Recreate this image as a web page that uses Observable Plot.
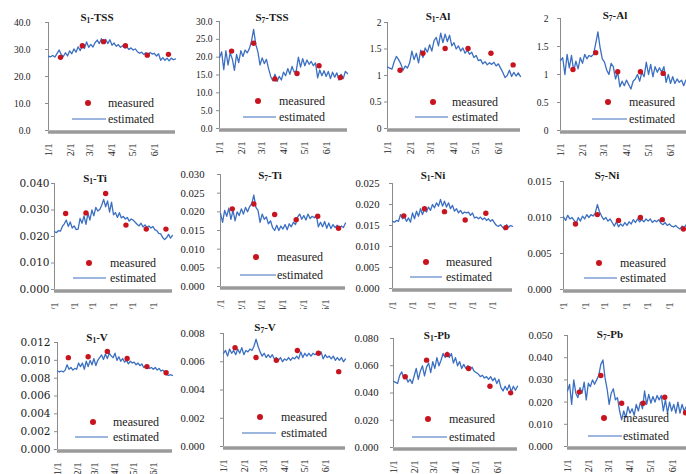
<!DOCTYPE html>
<html><head><meta charset="utf-8">
<script src="https://cdn.jsdelivr.net/npm/d3@7"></script>
<script src="https://cdn.jsdelivr.net/npm/@observablehq/plot@0.6"></script>
<style>
body{margin:0;background:#fff;}
#root{position:relative;width:686px;height:474px;overflow:hidden;background:#fff;font-family:"Liberation Serif","Times New Roman",serif;color:#1a1a1a;}
.title{position:absolute;transform:translate(-50%,-50%);font-weight:bold;font-size:11px;white-space:nowrap;line-height:1;}
.title sub{font-size:7.5px;vertical-align:-2px;line-height:0;}
.lg{position:absolute;font-size:12px;line-height:1;transform:translateY(-55%);white-space:nowrap;}
.lgdot{position:absolute;width:6px;height:6px;border-radius:50%;background:#c8141e;transform:translate(-50%,-50%);}
.lgline{position:absolute;height:0;border-top:1.6px solid #3b6fc2;transform:translateY(-50%);}
</style></head><body><div id="root"></div><script>
// ---------- DATA ----------
const startDate = "2011-01-01";
const endDate = "2011-06-30";
const stepDays = 3; // estimated values, one every 3 days from startDate
const monthTicks = ["2011-01-01","2011-02-01","2011-03-01","2011-04-01","2011-05-01","2011-06-01"];
const monthLabels = ["1/1","2/1","3/1","4/1","5/1","6/1"];
const measuredDates = ["2011-01-18","2011-02-18","2011-03-20","2011-04-20","2011-05-21","2011-06-20"];

const panelSites = ["1","7","1","7","1","7","1","7","1","7","1","7"];
const panelElements = ["TSS","TSS","Al","Al","Ti","Ti","Ni","Ni","V","V","Pb","Pb"];

const yTicks_TSS_S1 = [0,10,20,30,40];
const yTicks_TSS_S7 = [0,5,10,15,20,25,30];
const yTicks_Al = [0,0.5,1,1.5,2];
const yTicks_Ti_S1 = [0,0.01,0.02,0.03,0.04];
const yTicks_Ti_S7 = [0,0.005,0.01,0.015,0.02,0.025,0.03];
const yTicks_Ni_S1 = [0,0.005,0.01,0.015,0.02,0.025];
const yTicks_Ni_S7 = [0,0.005,0.01,0.015];
const yTicks_V_S1 = [0,0.002,0.004,0.006,0.008,0.01,0.012];
const yTicks_V_S7 = [0,0.002,0.004,0.006,0.008];
const yTicks_Pb_S1 = [0,0.02,0.04,0.06,0.08];
const yTicks_Pb_S7 = [0,0.01,0.02,0.03,0.04,0.05];
const yDecimals = [1,1,null,null,3,3,3,3,3,3,3,3];

const measured_S1_TSS = [27.1, 31.4, 32.9, 31.4, 27.9, 28.2];
const measured_S7_TSS = [21.7, 23.9, 13.9, 15.4, 17.6, 14.3];
const measured_S1_Al = [1.10, 1.42, 1.51, 1.51, 1.42, 1.20];
const measured_S7_Al = [1.09, 1.39, 1.05, 1.05, 1.02, null];
const measured_S1_Ti = [0.0287, 0.0289, 0.0362, 0.0243, 0.0228, 0.0228];
const measured_S7_Ti = [0.0208, 0.0221, 0.0193, 0.0179, 0.0188, 0.0156];
const measured_S1_Ni = [0.0173, 0.0190, 0.0183, 0.0163, 0.0179, 0.0145];
const measured_S7_Ni = [0.0091, 0.0104, 0.0096, 0.0100, 0.0097, 0.0084];
const measured_S1_V = [0.0103, 0.0104, 0.0110, 0.0102, 0.0093, 0.0086];
const measured_S7_V = [0.0070, 0.0063, 0.0061, 0.0068, 0.0066, 0.0053];
const measured_S1_Pb = [0.0519, 0.0641, 0.0682, 0.0580, 0.0450, 0.0401];
const measured_S7_Pb = [0.0245, 0.0320, 0.0195, 0.0195, 0.0222, 0.0152];

const estimated_S1_TSS = [27.5,27.3,27.8,27.2,28.5,29.8,28.2,27.4,28.8,27.6,
 29.5,28.4,30.2,29.0,31.0,29.6,31.5,30.4,32.8,30.8,
 31.9,30.9,32.5,33.5,32.2,34.0,32.6,33.8,32.2,33.6,
 31.6,32.4,31.2,31.8,30.8,31.4,30.6,31.0,30.0,30.6,
 29.8,30.2,29.2,28.6,29.0,28.2,28.8,28.0,28.9,28.3,
 28.6,27.6,28.4,26.0,27.0,26.0,26.8,25.8,26.8,26.2,26.5];
const estimated_S7_TSS = [19.8,21.5,16.5,21.8,17.8,21.2,19.5,16.3,20.8,18.5,
 21.8,20.2,22.0,21.2,22.4,24.5,27.8,23.6,21.5,17.8,
 19.8,18.2,19.4,16.8,14.6,13.4,15.2,13.2,14.6,13.6,
 15.8,14.8,16.8,15.2,17.4,15.8,16.2,20.0,17.2,19.6,
 17.6,19.2,18.0,18.8,17.6,18.4,14.2,16.4,14.8,16.2,
 14.6,16.0,14.0,15.8,14.4,15.6,13.6,15.2,14.0,16.0,15.4];
const estimated_S1_Al = [1.16,1.14,1.12,1.26,1.36,1.30,1.22,1.10,1.18,1.14,
 1.24,1.46,1.30,1.42,1.24,1.48,1.34,1.52,1.44,1.58,
 1.46,1.66,1.72,1.56,1.80,1.62,1.78,1.64,1.76,1.56,
 1.62,1.50,1.56,1.46,1.52,1.42,1.48,1.40,1.44,1.34,
 1.38,1.28,1.30,1.22,1.26,1.20,1.24,1.21,1.25,1.18,
 1.22,1.14,1.06,0.96,1.00,1.10,0.98,1.06,0.99,1.05,0.98];
const estimated_S7_Al = [1.25,1.30,1.00,1.36,1.12,1.34,1.06,1.24,1.10,1.30,
 1.20,1.36,1.28,1.34,1.32,1.36,1.55,1.76,1.48,1.28,
 1.22,1.08,1.00,1.20,1.14,0.92,1.04,0.78,0.88,0.80,
 0.90,0.82,0.74,0.88,0.92,1.00,0.88,1.04,0.96,1.22,
 1.00,1.18,0.96,1.14,1.04,1.12,1.04,1.14,0.86,1.00,
 0.84,0.96,0.84,0.92,0.86,0.90,0.80,0.90,0.82,0.88,0.80];
const estimated_S1_Ti = [0.0218,0.0215,0.0222,0.0220,0.0238,0.0248,0.0262,0.0238,0.0255,0.0232,
 0.0240,0.0226,0.0228,0.0268,0.0250,0.0278,0.0246,0.0288,0.0262,0.0300,
 0.0278,0.0310,0.0296,0.0302,0.0318,0.0340,0.0312,0.0334,0.0292,0.0330,
 0.0282,0.0290,0.0272,0.0290,0.0270,0.0276,0.0266,0.0272,0.0258,0.0266,
 0.0262,0.0254,0.0246,0.0240,0.0250,0.0236,0.0244,0.0234,0.0240,0.0232,
 0.0238,0.0226,0.0222,0.0212,0.0210,0.0196,0.0188,0.0196,0.0208,0.0194,0.0204];
const estimated_S7_Ti = [0.0196,0.0172,0.0204,0.0188,0.0210,0.0180,0.0204,0.0176,0.0200,0.0190,
 0.0208,0.0194,0.0212,0.0200,0.0214,0.0222,0.0245,0.0212,0.0204,0.0172,
 0.0194,0.0180,0.0186,0.0168,0.0176,0.0158,0.0150,0.0164,0.0150,0.0162,
 0.0154,0.0166,0.0152,0.0168,0.0160,0.0172,0.0166,0.0186,0.0194,0.0180,
 0.0190,0.0178,0.0194,0.0182,0.0188,0.0184,0.0190,0.0160,0.0172,0.0160,
 0.0174,0.0156,0.0170,0.0155,0.0166,0.0158,0.0164,0.0154,0.0162,0.0158,0.0170];
const estimated_S1_Ni = [0.0160,0.0158,0.0162,0.0160,0.0176,0.0166,0.0170,0.0160,0.0168,0.0158,
 0.0180,0.0166,0.0184,0.0172,0.0190,0.0176,0.0190,0.0182,0.0194,0.0186,
 0.0200,0.0192,0.0204,0.0196,0.0212,0.0196,0.0208,0.0194,0.0204,0.0190,
 0.0198,0.0184,0.0190,0.0180,0.0186,0.0178,0.0182,0.0180,0.0182,0.0174,
 0.0180,0.0168,0.0170,0.0166,0.0170,0.0164,0.0168,0.0162,0.0166,0.0160,
 0.0164,0.0156,0.0150,0.0148,0.0152,0.0146,0.0140,0.0152,0.0146,0.0150,0.0148];
const estimated_S7_Ni = [0.0101,0.0096,0.0103,0.0098,0.0100,0.0096,0.0092,0.0100,0.0095,0.0102,
 0.0098,0.0104,0.0100,0.0104,0.0102,0.0106,0.0118,0.0108,0.0102,0.0097,
 0.0100,0.0095,0.0098,0.0093,0.0088,0.0094,0.0087,0.0091,0.0088,0.0093,
 0.0089,0.0094,0.0091,0.0097,0.0093,0.0098,0.0094,0.0097,0.0094,0.0098,
 0.0095,0.0098,0.0093,0.0096,0.0094,0.0097,0.0092,0.0090,0.0093,0.0089,
 0.0091,0.0088,0.0087,0.0089,0.0086,0.0084,0.0088,0.0086,0.0090,0.0088,0.0090];
const estimated_S1_V = [0.0088,0.0087,0.0088,0.0087,0.0089,0.0095,0.0090,0.0092,0.0089,0.0091,
 0.0090,0.0097,0.0093,0.0097,0.0090,0.0099,0.0093,0.0100,0.0095,0.0102,
 0.0094,0.0100,0.0103,0.0106,0.0101,0.0107,0.0102,0.0108,0.0105,0.0103,
 0.0108,0.0100,0.0104,0.0099,0.0102,0.0098,0.0100,0.0096,0.0099,0.0097,
 0.0098,0.0095,0.0097,0.0094,0.0096,0.0092,0.0094,0.0093,0.0091,0.0092,
 0.0090,0.0092,0.0089,0.0091,0.0088,0.0089,0.0087,0.0084,0.0083,0.0084,0.0083];
const estimated_S7_V = [0.0066,0.0068,0.0064,0.0069,0.0066,0.0068,0.0065,0.0069,0.0066,0.0070,
 0.0065,0.0068,0.0067,0.0069,0.0068,0.0071,0.0076,0.0071,0.0067,0.0064,
 0.0066,0.0063,0.0065,0.0063,0.0065,0.0062,0.0063,0.0061,0.0063,0.0060,
 0.0062,0.0061,0.0063,0.0061,0.0063,0.0062,0.0064,0.0062,0.0067,0.0063,
 0.0066,0.0064,0.0066,0.0064,0.0066,0.0065,0.0066,0.0065,0.0067,0.0062,
 0.0065,0.0063,0.0064,0.0062,0.0064,0.0061,0.0063,0.0061,0.0063,0.0060,0.0062];
const estimated_S1_Pb = [0.0485,0.0478,0.0470,0.0530,0.0555,0.0505,0.0520,0.0480,0.0500,0.0470,
 0.0525,0.0580,0.0500,0.0560,0.0600,0.0525,0.0590,0.0620,0.0550,0.0630,
 0.0580,0.0660,0.0600,0.0640,0.0690,0.0660,0.0700,0.0660,0.0690,0.0620,
 0.0660,0.0600,0.0630,0.0580,0.0610,0.0580,0.0600,0.0570,0.0590,0.0560,
 0.0550,0.0540,0.0520,0.0530,0.0510,0.0520,0.0500,0.0520,0.0490,0.0510,
 0.0470,0.0500,0.0440,0.0415,0.0450,0.0420,0.0460,0.0410,0.0450,0.0420,0.0450];
const estimated_S7_Pb = [0.0250,0.0280,0.0190,0.0300,0.0240,0.0220,0.0265,0.0240,0.0290,0.0210,
 0.0285,0.0270,0.0300,0.0280,0.0300,0.0320,0.0370,0.0390,0.0310,0.0260,
 0.0190,0.0240,0.0260,0.0210,0.0220,0.0160,0.0120,0.0160,0.0130,0.0180,
 0.0150,0.0170,0.0140,0.0190,0.0160,0.0200,0.0170,0.0250,0.0190,0.0235,
 0.0195,0.0225,0.0200,0.0230,0.0210,0.0230,0.0160,0.0210,0.0150,0.0200,
 0.0160,0.0190,0.0150,0.0200,0.0150,0.0190,0.0160,0.0180,0.0150,0.0190,0.0160];

const estimatedSeries = [estimated_S1_TSS, estimated_S7_TSS, estimated_S1_Al, estimated_S7_Al,
  estimated_S1_Ti, estimated_S7_Ti, estimated_S1_Ni, estimated_S7_Ni,
  estimated_S1_V, estimated_S7_V, estimated_S1_Pb, estimated_S7_Pb];
const measuredSeries = [measured_S1_TSS, measured_S7_TSS, measured_S1_Al, measured_S7_Al,
  measured_S1_Ti, measured_S7_Ti, measured_S1_Ni, measured_S7_Ni,
  measured_S1_V, measured_S7_V, measured_S1_Pb, measured_S7_Pb];
const yTickSets = [yTicks_TSS_S1, yTicks_TSS_S7, yTicks_Al, yTicks_Al, yTicks_Ti_S1, yTicks_Ti_S7,
  yTicks_Ni_S1, yTicks_Ni_S7, yTicks_V_S1, yTicks_V_S7, yTicks_Pb_S1, yTicks_Pb_S7];

// ---------- LAYOUT (pixels) ----------
// frame: l = y-axis x, r = right end, t = top tick y, b = zero y, cut = bottom of drawing
const frames = [
  {l:48,r:175,t:22,b:130,cut:166},{l:219,r:347,t:21,b:128,cut:166},{l:387,r:520,t:22,b:128,cut:166},{l:560,r:692,t:18,b:130,cut:166},
  {l:54,r:172,t:183,b:289,cut:309},{l:220,r:345,t:174,b:286,cut:309},{l:392,r:512,t:183,b:288,cut:309},{l:563,r:690,t:181,b:289,cut:309},
  {l:57,r:172,t:342,b:449,cut:480},{l:223,r:345,t:333,b:446,cut:480},{l:393,r:517,t:338,b:447,cut:480},{l:567,r:692,t:335,b:446,cut:480}
];
const labelGaps = [17,6,5,11, 4,15,12,11, 6,18,14,14];
const yFontSizes = [9.5,9.5,9.5,9.5, 10.5,10.7,10.7,10.7, 10.5,10.7,10.7,10.7];
const yFontFamilies = ["L","L","L","L","D","L","L","L","D","L","L","L"];
const titlePos = [[97,17],[272,17],[438,16],[615,15],[95,178],[270,175],[433,175],[607,175],[97,337],[265,327],[437,335],[610,334]];
// legend: dot cx, cy, line x1, x2, y, text x
const legendPos = [
  [88,103,72,106,119,108],[258,101,243,276,117,279],[433,102,415,448,117,452],[608,102,592,627,119,629],
  [89,263,73,106,278,110],[256,257,240,276,275,277],[426,262,410,442,277,446],[599,263,584,617,278,620],
  [93,422,75,108,437,113],[260,417,242,276,433,281],[428,419,412,447,437,449],[604,418,588,622,436,623]
];

const FONT_L = '"Liberation Serif","Times New Roman",serif';
const FONT_D = '"DejaVu Serif",serif';
const LINE_COLOR = "#3b6fc2";
const DOT_COLOR = "#c8141e";

const root = document.getElementById("root");
const start = new Date(startDate + "T00:00:00Z");
const end = new Date(endDate + "T00:00:00Z");
const DAY = 86400000;

function el(cls, styles, html) {
  const d = document.createElement("div");
  d.className = cls;
  Object.assign(d.style, styles);
  if (html != null) d.innerHTML = html;
  root.appendChild(d);
  return d;
}

for (let i = 0; i < 12; i++) {
  const f = frames[i];
  const ml = 70, mr = 2, mt = 8;
  const mb = f.cut - f.b;
  const width = f.r - f.l + ml + mr;
  const height = f.b - f.t + mt + mb;
  const est = estimatedSeries[i].map((v, k) => ({date: new Date(start.getTime() + k * stepDays * DAY), value: v}));
  const meas = measuredSeries[i].map((v, k) => ({date: new Date(measuredDates[k] + "T00:00:00Z"), value: v})).filter(d => d.value != null);
  const ticks = yTickSets[i];
  const dec = yDecimals[i];
  const yFmt = dec == null ? (d => String(+d.toFixed(2))) : (d => d.toFixed(dec));
  const yFont = yFontFamilies[i] === "D" ? FONT_D : FONT_L;
  const plot = Plot.plot({
    width, height, marginLeft: ml, marginRight: mr, marginTop: mt, marginBottom: mb,
    style: {background: "transparent", fontFamily: FONT_L, color: "#1a1a1a"},
    x: {type: "utc", domain: [start, end]},
    y: {domain: [0, ticks[ticks.length - 1]]},
    marks: [
      Plot.ruleX([start], {stroke: "#8c8c8c", strokeWidth: 1}),
      Plot.axisY({ticks, tickFormat: yFmt, tickSize: 3, tickPadding: labelGaps[i] - 2, stroke: "#8c8c8c", fill: "#1a1a1a",
        fontSize: yFontSizes[i], fontFamily: yFont, label: null}),
      Plot.axisX({ticks: monthTicks.map(s => new Date(s + "T00:00:00Z")),
        tickFormat: d => monthLabels[d.getUTCMonth()], tickRotate: -90, tickSize: 0, tickPadding: 13,
        fill: "#1a1a1a", fontSize: 10, label: null}),
      Plot.ruleY([0], {stroke: "#9a9a9a", strokeWidth: 3.5, dy: 1.5}),
      Plot.line(est, {x: "date", y: "value", stroke: LINE_COLOR, strokeWidth: 1.3}),
      Plot.dot(meas, {x: "date", y: "value", r: 2.7, fill: DOT_COLOR, stroke: "none"})
    ]
  });
  plot.style.position = "absolute";
  plot.style.left = (f.l - ml) + "px";
  plot.style.top = (f.t - mt) + "px";
  root.appendChild(plot);

  const [tx, ty] = titlePos[i];
  el("title", {left: tx + "px", top: ty + "px"}, `S<sub>${panelSites[i]}</sub>-${panelElements[i]}`);

  const [cx, cy, x1, x2, ly, textX] = legendPos[i];
  el("lgdot", {left: cx + "px", top: cy + "px"});
  el("lg", {left: textX + "px", top: (cy + 1) + "px"}, "measured");
  el("lgline", {left: x1 + "px", top: ly + "px", width: (x2 - x1) + "px"});
  el("lg", {left: textX + "px", top: (ly + 1) + "px"}, "estimated");
}
</script></body></html>
